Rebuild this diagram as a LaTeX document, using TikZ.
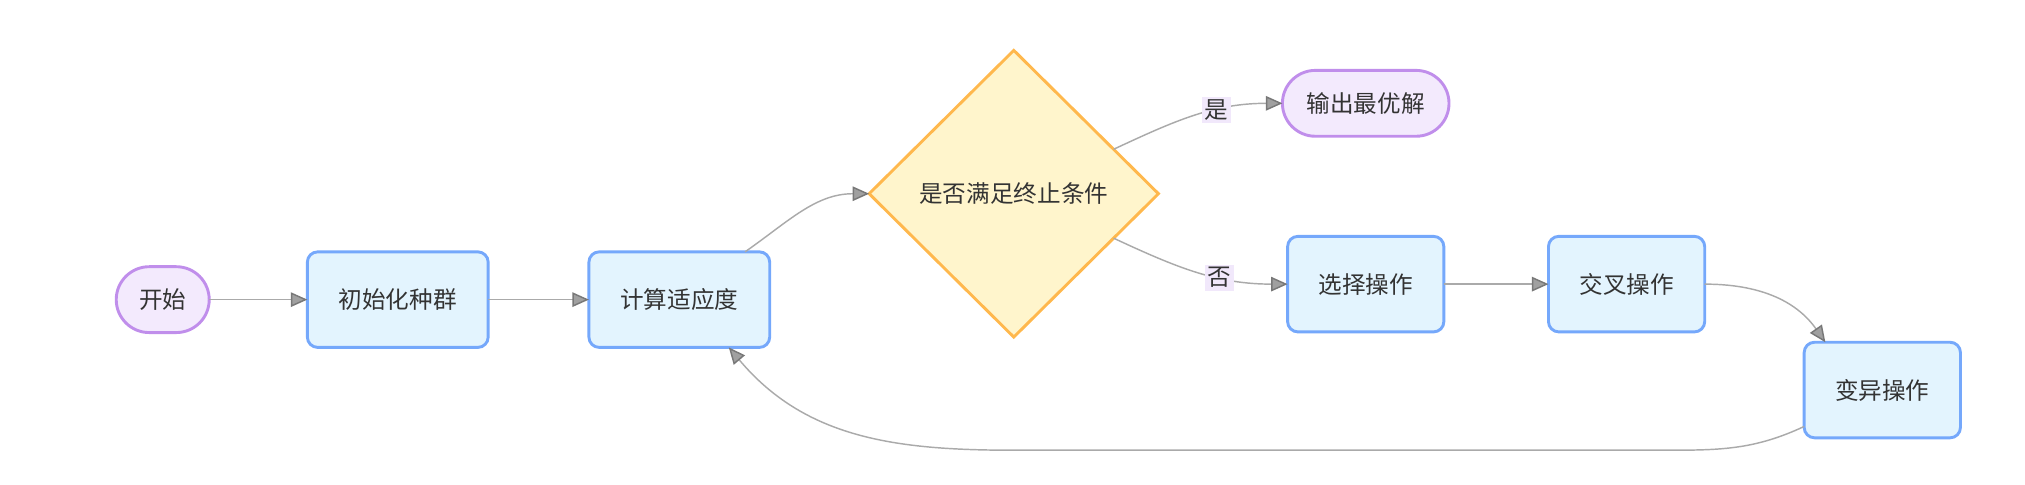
\documentclass[tikz,border=0pt]{standalone}
\usepackage{fontspec}
\setmainfont{Noto Sans CJK SC}
\usetikzlibrary{arrows.meta}
\usetikzlibrary{positioning}
\usetikzlibrary{shapes.geometric}
\definecolor{termFill}{RGB}{243,234,253}
\definecolor{termLine}{RGB}{192,142,235}
\definecolor{procFill}{RGB}{227,244,254}
\definecolor{procLine}{RGB}{117,168,251}
\definecolor{condFill}{RGB}{255,245,204}
\definecolor{condLine}{RGB}{255,184,77}
\definecolor{edgeGray}{RGB}{170,170,170}
\definecolor{tipGray}{RGB}{160,160,160}
\definecolor{labelFill}{RGB}{241,232,251}
\definecolor{textGray}{RGB}{51,51,51}

\begin{document}
\begin{tikzpicture}[->,>={Triangle[length=0.32cm,width=0.28cm,fill=tipGray,color=tipGray!75!black]},
  draw=edgeGray,line width=0.8pt,node distance=1.9cm,
  every node/.style={text=textGray,font=\fontsize{13pt}{15pt}\selectfont},
  term node/.style={rectangle,rounded corners=0.6375cm,fill=termFill,draw=termLine,
  line width=1.6pt,minimum height=1.275cm,inner sep=0pt,outer sep=0pt},
  proc node/.style={rectangle,rounded corners=0.2cm,fill=procFill,draw=procLine,
  line width=1.6pt,minimum width=3.5cm,minimum height=1.85cm,inner sep=0pt,outer sep=0pt},
  cond node/.style={diamond,fill=condFill,draw=condLine,line width=1.6pt,
  minimum width=5.6cm,minimum height=5.55cm,inner sep=0pt,outer sep=0pt},
  label node/.style={fill=labelFill,inner sep=1.5pt}]
\useasboundingbox (0,0) rectangle (39.2,-9.388);
%------------------------------------------------------------------------
% Start and the main loop
%------------------------------------------------------------------------
\node[term node,minimum width=1.8cm] (start) at (3.15,-5.8) {开始};
\node[proc node] (init) [right=1.9cm of start] {初始化种群};
\node[proc node] (calc) [right=1.95cm of init] {计算适应度};
\node[cond node] (cond) [right=1.925cm of calc,yshift=2.05cm] {是否满足终止条件};
\node[term node,minimum width=3.225cm] (out) [right=2.4cm of cond,yshift=1.75cm] {输出最优解};
\node[proc node,minimum width=3.025cm] (sel) [right=2.5cm of cond,yshift=-1.75cm] {选择操作};
\node[proc node,minimum width=3.025cm] (cross) [right=2.025cm of sel] {交叉操作};
\node[proc node,minimum width=3.025cm] (mut) [below right=0.2cm and 1.925cm of cross.south east] {变异操作};
\coordinate[below=0.24cm of mut.south west,xshift=-2.6cm] (loopR);
\coordinate (loopL) at (loopR -| cond.south);
%------------------------------------------------------------------------
% The edges
%------------------------------------------------------------------------
\draw (start) -- (init);
\draw (init) -- (calc);
\draw (calc.36) to[out=35,in=180] (cond.west);
\draw (cond.24) to[out=25,in=180] node[label node,pos=0.63]{是} (out.west);% yes
\draw (cond.-24) to[out=-25,in=180] node[label node,pos=0.63]{否} (sel.west);% no
\draw (sel) -- (cross);
\draw (cross.east) to[out=0,in=125] (mut.140);
% back to the fitness step
\draw (mut.205) to[out=205,in=0] (loopR) -- (loopL) to[out=180,in=-50] (calc.316);

\end{tikzpicture}
\end{document}
